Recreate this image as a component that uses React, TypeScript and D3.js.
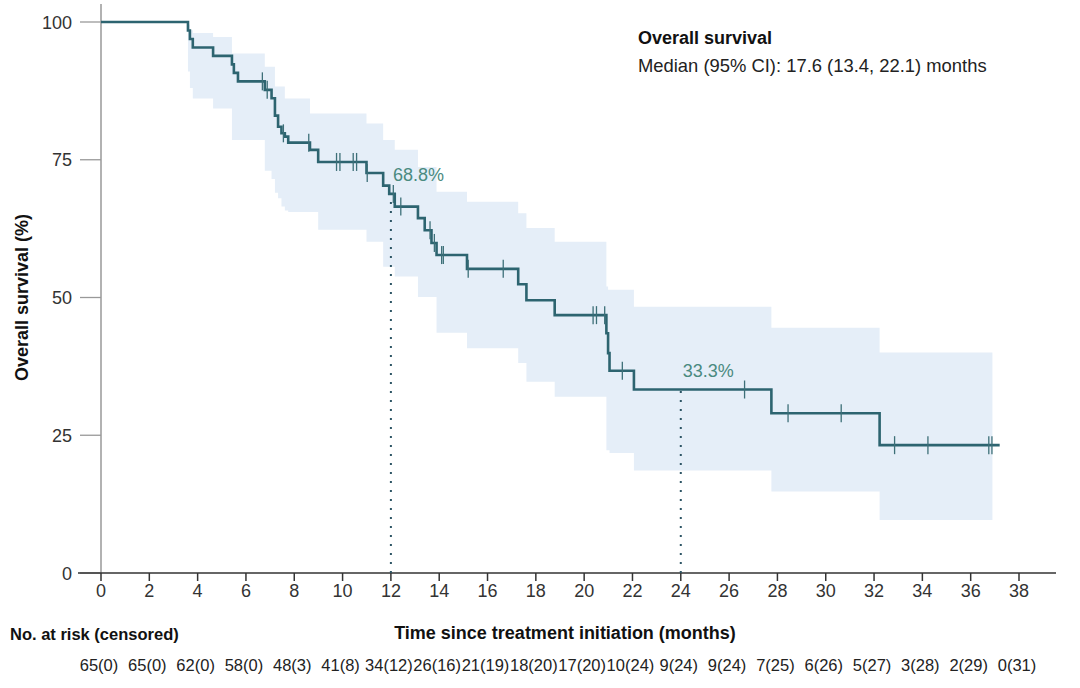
import { useEffect } from "react";
import * as d3 from "d3";

const width = 1080;
const height = 688;

// Kaplan-Meier events: time (months), survival (%) after the drop, and 95% CI
const eventTimes = [3.6, 3.68, 3.8, 4.64, 5.42, 5.5, 5.67, 6.78, 7.06, 7.2, 7.33, 7.47, 7.61, 7.75, 8.65, 8.99, 10.99, 11.68, 11.93, 12.16, 13.12, 13.4, 13.68, 13.89, 15.15, 17.27, 17.61, 18.78, 20.92, 20.99, 21.05, 22.06, 27.75, 32.23];
const survival = [98.46, 96.92, 95.38, 93.85, 92.31, 90.77, 89.23, 87.69, 86.15, 83.0, 81.0, 79.8, 79.2, 78.1, 76.8, 74.6, 72.6, 70.3, 68.8, 66.5, 64.4, 62.2, 59.9, 57.7, 55.2, 52.4, 49.5, 46.8, 43.5, 39.9, 36.7, 33.3, 29.0, 23.2];
const ciUpper = [99.5, 98.5, 98.0, 97.3, 94.3, 94.3, 94.3, 91.9, 91.9, 88.3, 88.3, 88.3, 86.1, 86.1, 83.4, 83.4, 81.6, 78.6, 78.6, 76.8, 73.7, 73.7, 73.7, 69.2, 67.4, 65.3, 62.6, 60.1, 52.0, 51.4, 51.4, 48.3, 44.5, 40.0];
const ciLower = [91.0, 88.0, 86.1, 84.3, 78.6, 78.6, 78.6, 73.0, 71.5, 69.0, 68.0, 66.5, 65.8, 65.5, 65.5, 62.3, 60.1, 55.6, 55.6, 53.8, 50.1, 50.1, 50.1, 43.6, 40.8, 38.1, 34.7, 32.0, 22.3, 22.3, 21.8, 18.6, 14.8, 9.6];
const lastFollowUp = 37.2;
const bandEnd = 36.9;

// censored observations (months)
const censorTimes = [6.68, 6.88, 7.55, 8.6, 9.75, 9.89, 10.44, 10.58, 11.02, 12.1, 12.41, 13.62, 13.8, 14.1, 14.17, 15.2, 16.65, 20.37, 20.51, 20.85, 21.58, 26.64, 28.44, 30.64, 32.85, 34.23, 36.75, 36.88];

// landmark estimates
const landmarkTimes = [12, 24];
const landmarkValues = [68.8, 33.3];
const landmarkLabels = ["68.8%", "33.3%"];

const xTicks = d3.range(0, 39, 2);
const yTicks = [0, 25, 50, 75, 100];
const atRisk = [65, 65, 62, 58, 48, 41, 34, 26, 21, 18, 17, 10, 9, 9, 7, 6, 5, 3, 2, 0];
const censoredCounts = [0, 0, 0, 0, 3, 8, 12, 16, 19, 20, 20, 24, 24, 24, 25, 26, 27, 28, 29, 31];

const x = d3.scaleLinear().domain([0, 38]).range([101, 1019]);
const y = d3.scaleLinear().domain([0, 100]).range([573, 22]);

const survAt = (t: number) => {
  let s = 100;
  eventTimes.forEach((et, i) => {
    if (et <= t) s = survival[i];
  });
  return s;
};

const font = "'Liberation Sans', Arial, sans-serif";
const curveColor = "#2d6470";
const labelColor = "#4a8a80";

export default function App() {
  useEffect(() => {
    document.body.style.margin = "0";
  }, []);

  const curvePts: [number, number][] = [
    [0, 100],
    ...eventTimes.map((t, i) => [t, survival[i]] as [number, number]),
    [lastFollowUp, survival[survival.length - 1]],
  ];
  const line = d3
    .line<[number, number]>()
    .x((d) => x(d[0]))
    .y((d) => y(d[1]))
    .curve(d3.curveStepAfter);

  const bandPts = [
    ...eventTimes.map((t, i) => ({ t, lo: ciLower[i], hi: ciUpper[i] })),
    { t: bandEnd, lo: ciLower[ciLower.length - 1], hi: ciUpper[ciUpper.length - 1] },
  ];
  const area = d3
    .area<{ t: number; lo: number; hi: number }>()
    .x((d) => x(d.t))
    .y0((d) => y(d.lo))
    .y1((d) => y(d.hi))
    .curve(d3.curveStepAfter);

  return (
    <svg width={width} height={height} style={{ display: "block", fontFamily: font }}>
      <rect width={width} height={height} fill="#fff" />
      <path d={area(bandPts) ?? ""} fill="#e5eef8" />

      {/* axes */}
      <line x1={101} x2={101} y1={4} y2={573} stroke="#999" strokeWidth={1.5} />
      {yTicks.map((v) => (
        <g key={v}>
          <line x1={80} x2={101} y1={y(v)} y2={y(v)} stroke="#999" strokeWidth={1.3} />
          <text x={72} y={y(v) + 6.5} textAnchor="end" fontSize={18} fill="#333">
            {v}
          </text>
        </g>
      ))}
      <line x1={78} x2={1056} y1={573} y2={573} stroke="#333" strokeWidth={1.5} />
      {xTicks.map((v) => (
        <g key={v}>
          <line x1={x(v)} x2={x(v)} y1={573} y2={581} stroke="#333" strokeWidth={1.5} />
          <text x={x(v)} y={597} textAnchor="middle" fontSize={18} fill="#333">
            {v}
          </text>
        </g>
      ))}

      {/* landmark lines */}
      {landmarkTimes.map((t, i) => (
        <g key={t}>
          <line
            x1={x(t)}
            x2={x(t)}
            y1={573}
            y2={y(landmarkValues[i])}
            stroke="#2d5565"
            strokeWidth={2}
            strokeDasharray="2 7"
          />
          <text x={x(t) + 2} y={y(landmarkValues[i]) - 13} fontSize={18} fill={labelColor}>
            {landmarkLabels[i]}
          </text>
        </g>
      ))}

      <path d={line(curvePts) ?? ""} fill="none" stroke={curveColor} strokeWidth={2.6} />
      {censorTimes.map((t, i) => (
        <line
          key={i}
          x1={x(t)}
          x2={x(t)}
          y1={y(survAt(t)) - 9}
          y2={y(survAt(t)) + 9}
          stroke="#3d6f78"
          strokeWidth={1.3}
        />
      ))}

      {/* legend */}
      <text x={638} y={44} fontSize={18} fontWeight="bold" fill="#111">
        Overall survival
      </text>
      <text x={638} y={72} fontSize={18.4} fill="#222">
        Median (95% CI): 17.6 (13.4, 22.1) months
      </text>

      <text
        transform={`translate(28, ${y(50)}) rotate(-90)`}
        textAnchor="middle"
        fontSize={18}
        fontWeight="bold"
        fill="#111"
      >
        Overall survival (%)
      </text>
      <text x={565} y={639} textAnchor="middle" fontSize={18} fontWeight="bold" fill="#111">
        Time since treatment initiation (months)
      </text>
      <text x={10} y={640} fontSize={16.5} fontWeight="bold" fill="#111">
        No. at risk (censored)
      </text>
      {xTicks.map((v, i) => (
        <text key={v} x={x(v) - 2} y={671} textAnchor="middle" fontSize={16.5} fill="#222">
          {`${atRisk[i]}(${censoredCounts[i]})`}
        </text>
      ))}
    </svg>
  );
}
